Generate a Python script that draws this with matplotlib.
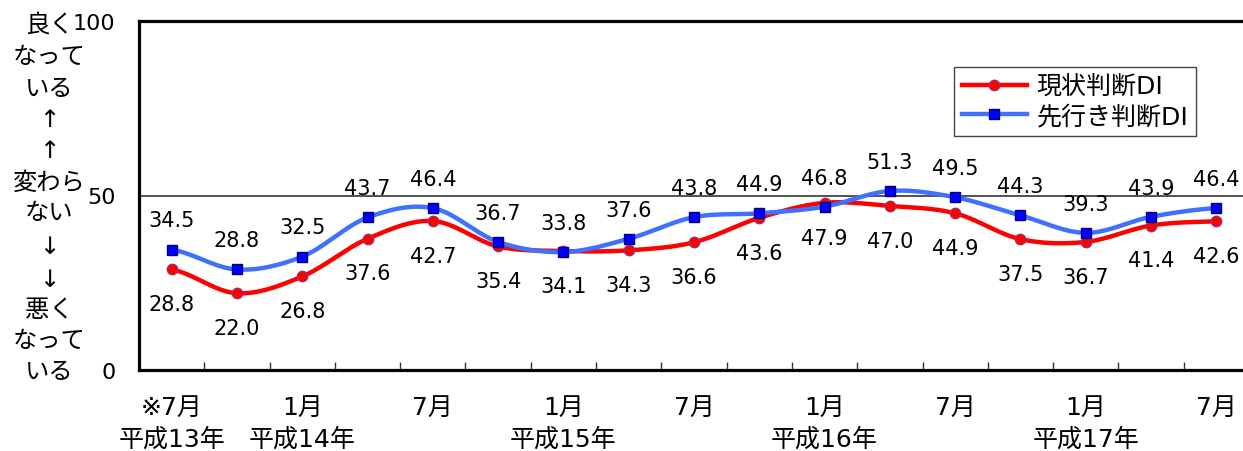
import numpy as np
import matplotlib
matplotlib.use('Agg')
import matplotlib.pyplot as plt

# 数字はDejaVu、日本語はNotoで描く
plt.rcParams['font.family'] = ['DejaVu Sans', 'Noto Sans CJK JP']
plt.rcParams['axes.unicode_minus'] = False

# 四半期ごとの調査結果（平成13年7月～平成17年7月）
months = ['※7月', '', '1月', '', '7月', '', '1月', '', '7月', '',
          '1月', '', '7月', '', '1月', '', '7月']
years = ['平成13年', '', '平成14年', '', '', '', '平成15年', '', '', '',
         '平成16年', '', '', '', '平成17年', '', '']
genjou = [28.8, 22.0, 26.8, 37.6, 42.7, 35.4, 34.1, 34.3, 36.6,
          43.6, 47.9, 47.0, 44.9, 37.5, 36.7, 41.4, 42.6]
sakiyuki = [34.5, 28.8, 32.5, 43.7, 46.4, 36.7, 33.8, 37.6, 43.8,
            44.9, 46.8, 51.3, 49.5, 44.3, 39.3, 43.9, 46.4]

W, H = 1243, 452


def smooth(y, n=30):
    # Excelの平滑線と同じくベジェ曲線でつなぐ
    y = np.asarray(y, dtype=float)
    x = np.arange(len(y), dtype=float)
    xs, ys = [], []
    t = np.linspace(0, 1, n)
    for i in range(len(y) - 1):
        p0 = y[max(i - 1, 0)]
        p1, p2 = y[i], y[i + 1]
        p3 = y[min(i + 2, len(y) - 1)]
        c1 = p1 + (p2 - p0) / 6
        c2 = p2 - (p3 - p1) / 6
        yy = ((1 - t) ** 3 * p1 + 3 * (1 - t) ** 2 * t * c1
              + 3 * (1 - t) * t ** 2 * c2 + t ** 3 * p2)
        xs.append(x[i] + t)
        ys.append(yy)
    return np.concatenate(xs), np.concatenate(ys)


fig = plt.figure(figsize=(W / 100, H / 100), dpi=100)
ax = fig.add_axes([139 / W, 1 - 371 / H, (1249 - 139) / W, (371 - 22) / H])

x = np.arange(len(genjou))
red_face, red_edge = '#ff0000', '#993366'
blue_line, blue_face, blue_edge = '#4070ff', '#0000ff', '#000080'

sx, sy = smooth(genjou)
ax.plot(sx, sy, color=red_face, lw=3.2, solid_capstyle='round', zorder=3)
ax.plot(x, genjou, ls='none', marker='o', ms=7.5, mfc=red_face,
        mec=red_edge, mew=1, zorder=4)
sx, sy = smooth(sakiyuki)
ax.plot(sx, sy, color=blue_line, lw=3.2, solid_capstyle='round', zorder=5)
ax.plot(x, sakiyuki, ls='none', marker='s', ms=7.5, mfc=blue_face,
        mec=blue_edge, mew=1, zorder=6)

# 凡例用のダミー
h1, = ax.plot([], [], color=red_face, lw=3.2, marker='o', ms=7.5,
              mfc=red_face, mec=red_edge, mew=1)
h2, = ax.plot([], [], color=blue_line, lw=3.2, marker='s', ms=7.5,
              mfc=blue_face, mec=blue_edge, mew=1)

for i in range(len(x)):
    ax.annotate(f'{sakiyuki[i]:.1f}', (x[i], sakiyuki[i]), xytext=(0, 21),
                textcoords='offset points', ha='center', va='center',
                fontsize=15)
    ax.annotate(f'{genjou[i]:.1f}', (x[i], genjou[i]), xytext=(0, -25),
                textcoords='offset points', ha='center', va='center',
                fontsize=15)

ax.axhline(50, color='#333333', lw=1.2, zorder=2)

ax.set_xlim(-0.5, len(x) - 0.5)
ax.set_ylim(0, 100)

ax.set_xticks(x)
ax.set_xticklabels([f'{m}\n{y}' for m, y in zip(months, years)],
                   fontsize=18, linespacing=1.4)
ax.tick_params(axis='x', which='major', length=0, pad=18)
ax.set_xticks(np.arange(0.5, len(x) - 1, 1.0), minor=True)
ax.tick_params(axis='x', which='minor', direction='in', length=6,
               width=1, color='#333333')

ax.set_yticks([0, 50, 100])
ax.set_yticklabels(['0', '50', '100'], fontsize=16)
ax.tick_params(axis='y', length=0, pad=17)

for s in ax.spines.values():
    s.set_linewidth(2.3)
    s.set_color('black')

leg = ax.legend([h1, h2], ['現状判断DI', '先行き判断DI'], loc='upper left',
                bbox_to_anchor=(954 / W, 1 - 68 / H),
                bbox_transform=fig.transFigure, fontsize=18,
                handlelength=2.6, handletextpad=0.4, borderpad=0.3,
                labelspacing=0.22, fancybox=False, framealpha=1,
                edgecolor='#444444', borderaxespad=0)
leg.get_frame().set_linewidth(1)

# 縦軸の説明文
side = [('良く', 25), ('なって', 57), ('いる', 89), ('↑', 120), ('↑', 151),
        ('変わら', 183), ('ない', 213), ('↓', 247), ('↓', 280),
        ('悪く', 310), ('なって', 341), ('いる', 372)]
for txt, yp in side:
    fig.text(49 / W, 1 - yp / H, txt, ha='center', va='center',
             fontsize=17.5)

fig.savefig('out.png', dpi=100)
